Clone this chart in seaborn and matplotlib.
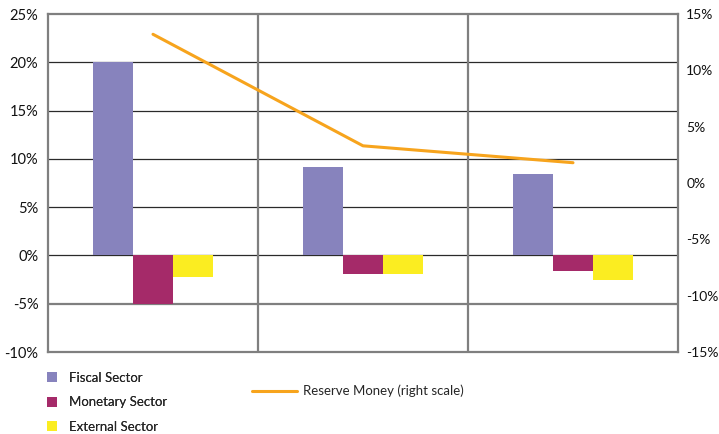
import matplotlib
matplotlib.use("Agg")
import matplotlib.pyplot as plt
from matplotlib.patches import Patch
from matplotlib.lines import Line2D
from matplotlib.ticker import FuncFormatter, MultipleLocator
import seaborn as sns
import pandas as pd

# data
periods = ["P1", "P2", "P3"]
sectors = ["Fiscal Sector", "Monetary Sector", "External Sector"]
fiscal = [20.0, 9.2, 8.4]
monetary = [-5.0, -1.9, -1.6]
external = [-2.2, -1.9, -2.5]
reserve_money = [13.2, 3.3, 1.8]

colors = ["#8783bd", "#a52a69", "#fbed21"]
line_color = "#f7a41d"

sns.set_theme(style="white")
plt.rcParams["font.family"] = ["Lato", "DejaVu Sans"]

df = pd.DataFrame({
    "period": periods * 3,
    "sector": [s for s in sectors for _ in periods],
    "value": fiscal + monetary + external,
})

fig = plt.figure(figsize=(7.19, 4.34), dpi=100)
ax = fig.add_axes([48 / 719, 1 - 352 / 434, 630 / 719, 338 / 434])

sns.barplot(data=df, x="period", y="value", hue="sector", order=periods,
            hue_order=sectors, palette=colors, width=0.57, gap=0,
            saturation=1, legend=False, ax=ax, zorder=3)
for p in ax.patches:
    p.set_edgecolor("none")

ax.set_xlim(-0.5, 2.5)
ax.set_ylim(-10, 25)
ax.yaxis.set_major_locator(MultipleLocator(5))
ax.yaxis.set_major_formatter(FuncFormatter(lambda v, _: f"{v:.0f}%"))
ax.set_xticks([])
ax.set_xlabel("")
ax.set_ylabel("")
ax.tick_params(axis="y", length=0, pad=7, labelsize=10.5, labelcolor="#111111")

# grid
for v in range(-5, 25, 5):
    if v == -5:
        ax.axhline(v, color="#7f7f7f", lw=1.6, zorder=1)
    else:
        ax.axhline(v, color="#2a2a2a", lw=0.9, zorder=1)
for x in [0.5, 1.5]:
    ax.axvline(x, color="#7f7f7f", lw=1.6, zorder=1)
for s in ax.spines.values():
    s.set_color("#7f7f7f")
    s.set_linewidth(1.6)

# right axis
ax2 = ax.twinx()
sns.lineplot(x=[0, 1, 2], y=reserve_money, color=line_color, lw=2.2, ax=ax2)
ax2.set_ylim(-15, 15)
ax2.yaxis.set_major_locator(MultipleLocator(5))
ax2.yaxis.set_major_formatter(FuncFormatter(lambda v, _: f"{v:.0f}%"))
ax2.tick_params(axis="y", length=0, pad=6, labelsize=10, labelcolor="#111111")
ax2.set_ylabel("")
ax2.grid(False)
for s in ax2.spines.values():
    s.set_visible(False)

# legends
handles = [Patch(facecolor=c, edgecolor="none") for c in colors]
leg1 = fig.legend(handles, sectors, loc="upper left",
                  bbox_to_anchor=(35 / 719, 1 - 360 / 434), frameon=False,
                  fontsize=9.5, handlelength=0.8, handleheight=0.8,
                  handletextpad=0.9, labelspacing=0.95)
fig.legend([Line2D([], [], color=line_color, lw=2.2)],
           ["Reserve Money (right scale)"], loc="upper left",
           bbox_to_anchor=(240 / 719, 1 - 373 / 434), frameon=False,
           fontsize=9.5, handlelength=3.4, handletextpad=0.5)
fig.add_artist(leg1)

fig.savefig("out.png", dpi=100)
